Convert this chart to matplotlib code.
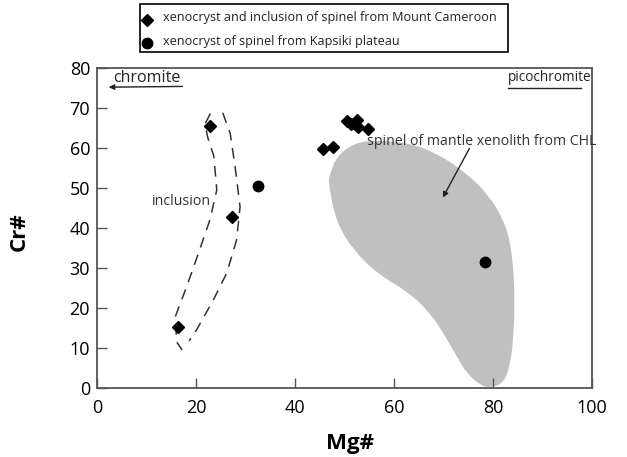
import numpy as np
import matplotlib
matplotlib.use('Agg')
import matplotlib.pyplot as plt
from matplotlib.path import Path
from matplotlib.patches import PathPatch, Rectangle
from matplotlib.lines import Line2D

plt.rcParams['font.family'] = ['Open Sans', 'DejaVu Sans']

# Mount Cameroon spinels (diamonds)
cam_mg = [22.8, 27.2, 16.4, 50.6, 52.6, 52.8, 54.8, 51.4, 45.7, 47.6]
cam_cr = [65.4, 42.8, 15.3, 66.8, 67.1, 65.2, 64.7, 66.0, 59.8, 60.2]

# Kapsiki plateau spinels (circles)
kap_mg = [32.6, 78.4]
kap_cr = [50.4, 31.6]

# outline of CHL mantle xenolith field
chl_mg = [46.7, 47.1, 48.4, 51.8, 56.5, 63.2, 68.6, 74.7, 79.4, 82.1, 83.4, 84.1,
          84.4, 84.1, 83.4, 82.1, 79.4, 77.4, 74.7, 72.7, 70.0, 67.3, 63.2, 56.5,
          51.8, 48.4]
chl_cr = [51.2, 53.7, 57.8, 61.2, 62.0, 61.2, 58.7, 53.7, 47.8, 42.0, 37.0, 30.3,
          22.0, 12.0, 5.3, 1.2, 0.0, 0.7, 3.7, 7.8, 13.7, 18.7, 23.7, 28.7,
          34.5, 41.2]

# dashed "inclusion" envelope
incl_left_mg = [22.9, 21.8, 22.4, 23.6, 24.2, 22.8, 20.5, 18.1, 15.8, 16.1, 17.2]
incl_left_cr = [68.6, 66.0, 62.5, 58.0, 49.5, 42.0, 33.7, 25.3, 17.8, 11.5, 9.5]
incl_right_mg = [25.4, 26.9, 27.9, 28.9, 28.2, 26.2, 23.5, 20.1, 18.6]
incl_right_cr = [68.8, 63.7, 55.3, 45.3, 37.0, 28.7, 22.0, 14.5, 11.8]

fig = plt.figure(figsize=(6.27, 4.57), dpi=100)
ax = fig.add_axes([97/627, 1-388/457, 495/627, 320/457])

# smooth closed outline for the grey field
pts = np.column_stack([chl_mg, chl_cr])
mids = (pts + np.roll(pts, -1, axis=0)) / 2
verts = [mids[-1]]
codes = [Path.MOVETO]
for i in range(len(pts)):
    verts += [pts[i], mids[i]]
    codes += [Path.CURVE3, Path.CURVE3]
ax.add_patch(PathPatch(Path(verts, codes), facecolor='#c0c0c0', edgecolor='none', zorder=1))

ax.plot(incl_left_mg, incl_left_cr, color='#333333', lw=1.1, ls=(0, (7, 5)), zorder=2)
ax.plot(incl_right_mg, incl_right_cr, color='#333333', lw=1.1, ls=(0, (7, 5)), zorder=2)

ax.plot(cam_mg, cam_cr, 'D', color='black', ms=6.5, ls='none', zorder=3)
ax.plot(kap_mg, kap_cr, 'o', color='black', ms=7.5, ls='none', zorder=3)

ax.set_xlim(0, 100)
ax.set_ylim(0, 80)
ax.set_xticks([0, 20, 40, 60, 80, 100])
ax.set_yticks([0, 10, 20, 30, 40, 50, 60, 70, 80])
ax.tick_params(direction='in', length=7, width=1, color='#555555', labelsize=13, pad=8)
ax.tick_params(axis='y', pad=5)
for s in ax.spines.values():
    s.set_color('#555555')
    s.set_linewidth(1.3)

ax.set_xlabel('Mg#', fontsize=16, fontweight='bold')
ax.set_ylabel('Cr#', fontsize=16, fontweight='bold')
ax.xaxis.set_label_coords(0.511, -0.14)
ax.yaxis.set_label_coords(-0.135, 0.49)

# annotations
ax.text(3.2, 77.6, 'chromite', fontsize=11.5, va='center', ha='left', color='#222222')
ax.annotate('', xy=(1.8, 75.2), xytext=(17.8, 75.4),
            arrowprops=dict(arrowstyle='-|>', color='#222222', lw=1, mutation_scale=8))
ax.text(83.0, 77.6, 'picochromite', fontsize=9.8, va='center', ha='left', color='#222222')
ax.plot([83.0, 97.8], [75.0, 75.0], color='#222222', lw=1)
ax.text(54.6, 61.6, 'spinel of mantle xenolith from CHL', fontsize=10.2, va='center',
        ha='left', color='#333333')
ax.annotate('', xy=(69.6, 47.0), xytext=(75.5, 60.5),
            arrowprops=dict(arrowstyle='-|>', color='#222222', lw=1, mutation_scale=8))
ax.text(11.0, 46.6, 'inclusion', fontsize=10.2, va='center', ha='left', color='#333333')

# legend box above the axes
fig.add_artist(Rectangle((140/627, 1-52/457), 368/627, 48/457, transform=fig.transFigure,
                         facecolor='white', edgecolor='black', lw=1.2))
fig.add_artist(Line2D([147/627], [1-20/457], marker='D', color='black', ms=6.5,
                      transform=fig.transFigure))
fig.add_artist(Line2D([147/627], [1-43/457], marker='o', color='black', ms=7.5,
                      transform=fig.transFigure))
fig.text(163/627, 1-18/457, 'xenocryst and inclusion of spinel from Mount Cameroon',
         fontsize=9.1, va='center', ha='left', color='#222222')
fig.text(163/627, 1-41/457, 'xenocryst of spinel from Kapsiki plateau',
         fontsize=9.1, va='center', ha='left', color='#222222')

fig.savefig('out.png', dpi=100)
